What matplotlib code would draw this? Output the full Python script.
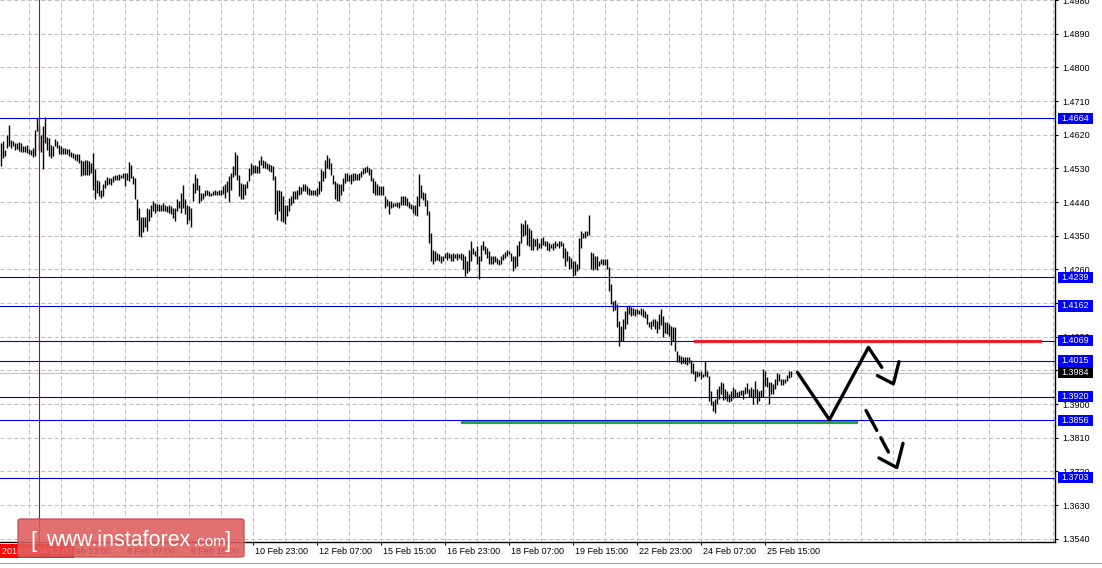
import matplotlib
matplotlib.use('Agg')
import matplotlib.pyplot as plt
from matplotlib import transforms
from matplotlib.patches import Rectangle, FancyBboxPatch
import numpy as np

# GBPUSD H1 bars, bar 0 = 2016.02.03 17:00
high = [
    1.4598, 1.4602, 1.4580, 1.4618, 1.4646, 1.4607, 1.4604, 1.4599, 1.4598, 1.4600,
    1.4598, 1.4589, 1.4589, 1.4593, 1.4583, 1.4580, 1.4584, 1.4633, 1.4664, 1.4646,
    1.4620, 1.4642, 1.4666, 1.4615, 1.4611, 1.4593, 1.4589, 1.4609, 1.4604, 1.4593,
    1.4589, 1.4584, 1.4584, 1.4583, 1.4583, 1.4575, 1.4571, 1.4568, 1.4567, 1.4569,
    1.4553, 1.4549, 1.4553, 1.4551, 1.4549, 1.4544, 1.4571, 1.4527, 1.4500, 1.4496,
    1.4473, 1.4487, 1.4500, 1.4506, 1.4503, 1.4504, 1.4509, 1.4512, 1.4513, 1.4515,
    1.4513, 1.4518, 1.4518, 1.4518, 1.4547, 1.4540, 1.4509, 1.4504, 1.4447, 1.4424,
    1.4400, 1.4400, 1.4400, 1.4424, 1.4420, 1.4433, 1.4442, 1.4438, 1.4435, 1.4435,
    1.4433, 1.4438, 1.4433, 1.4429, 1.4431, 1.4429, 1.4423, 1.4424, 1.4447, 1.4442,
    1.4464, 1.4485, 1.4449, 1.4433, 1.4429, 1.4424, 1.4491, 1.4515, 1.4504, 1.4485,
    1.4464, 1.4464, 1.4471, 1.4473, 1.4469, 1.4464, 1.4469, 1.4473, 1.4469, 1.4471,
    1.4473, 1.4482, 1.4487, 1.4497, 1.4509, 1.4518, 1.4535, 1.4575, 1.4566, 1.4513,
    1.4491, 1.4488, 1.4487, 1.4495, 1.4531, 1.4544, 1.4540, 1.4540, 1.4535, 1.4553,
    1.4562, 1.4553, 1.4549, 1.4544, 1.4542, 1.4540, 1.4535, 1.4509, 1.4471, 1.4471,
    1.4469, 1.4455, 1.4433, 1.4433, 1.4451, 1.4455, 1.4469, 1.4469, 1.4473, 1.4482,
    1.4479, 1.4488, 1.4487, 1.4482, 1.4478, 1.4473, 1.4473, 1.4471, 1.4478, 1.4495,
    1.4527, 1.4522, 1.4553, 1.4566, 1.4558, 1.4544, 1.4513, 1.4495, 1.4491, 1.4487,
    1.4487, 1.4504, 1.4518, 1.4518, 1.4513, 1.4515, 1.4518, 1.4518, 1.4515, 1.4518,
    1.4524, 1.4531, 1.4533, 1.4535, 1.4531, 1.4529, 1.4504, 1.4495, 1.4487, 1.4482,
    1.4482, 1.4482, 1.4455, 1.4447, 1.4442, 1.4444, 1.4438, 1.4438, 1.4440, 1.4440,
    1.4455, 1.4455, 1.4455, 1.4452, 1.4440, 1.4435, 1.4431, 1.4433, 1.4455, 1.4515,
    1.4486, 1.4468, 1.4464, 1.4446, 1.4415, 1.4357, 1.4313, 1.4309, 1.4304, 1.4300,
    1.4295, 1.4295, 1.4304, 1.4307, 1.4304, 1.4301, 1.4304, 1.4301, 1.4304, 1.4300,
    1.4304, 1.4300, 1.4295, 1.4282, 1.4313, 1.4337, 1.4317, 1.4309, 1.4322, 1.4295,
    1.4326, 1.4335, 1.4322, 1.4317, 1.4309, 1.4295, 1.4295, 1.4295, 1.4291, 1.4284,
    1.4295, 1.4301, 1.4307, 1.4313, 1.4309, 1.4304, 1.4295, 1.4295, 1.4326, 1.4337,
    1.4384, 1.4381, 1.4393, 1.4381, 1.4371, 1.4366, 1.4344, 1.4340, 1.4344, 1.4331,
    1.4344, 1.4346, 1.4337, 1.4335, 1.4331, 1.4328, 1.4331, 1.4335, 1.4331, 1.4335,
    1.4335, 1.4331, 1.4317, 1.4309, 1.4295, 1.4291, 1.4282, 1.4282, 1.4273, 1.4344,
    1.4362, 1.4357, 1.4362, 1.4362, 1.4406, 1.4307, 1.4304, 1.4295, 1.4295, 1.4282,
    1.4287, 1.4287, 1.4287, 1.4287, 1.4266, 1.4220, 1.4176, 1.4177, 1.4167, 1.4121,
    1.4109, 1.4127, 1.4149, 1.4162, 1.4165, 1.4160, 1.4156, 1.4153, 1.4153, 1.4151,
    1.4156, 1.4153, 1.4149, 1.4140, 1.4118, 1.4122, 1.4127, 1.4127, 1.4121, 1.4140,
    1.4153, 1.4136, 1.4118, 1.4118, 1.4115, 1.4109, 1.4106, 1.4105, 1.4042, 1.4032,
    1.4029, 1.4025, 1.4025, 1.4026, 1.4025, 1.4018, 1.4009, 1.3989, 1.3987, 1.3985,
    1.3989, 1.3980, 1.4014, 1.3987, 1.3976, 1.3936, 1.3909, 1.3914, 1.3940, 1.3949,
    1.3958, 1.3955, 1.3940, 1.3934, 1.3927, 1.3934, 1.3946, 1.3940, 1.3931, 1.3934,
    1.3938, 1.3938, 1.3945, 1.3955, 1.3940, 1.3945, 1.3940, 1.3961, 1.3940, 1.3934,
    1.3938, 1.3994, 1.3989, 1.3971, 1.3958, 1.3958, 1.3954, 1.3967, 1.3982, 1.3980,
    1.3967, 1.3967, 1.3967, 1.3978, 1.3987, 1.3987,
]
low = [
    1.4535, 1.4558, 1.4562, 1.4584, 1.4589, 1.4584, 1.4589, 1.4580, 1.4583, 1.4577,
    1.4575, 1.4575, 1.4574, 1.4571, 1.4567, 1.4565, 1.4560, 1.4562, 1.4629, 1.4580,
    1.4575, 1.4527, 1.4598, 1.4580, 1.4562, 1.4558, 1.4562, 1.4589, 1.4584, 1.4568,
    1.4568, 1.4567, 1.4568, 1.4567, 1.4564, 1.4559, 1.4558, 1.4551, 1.4549, 1.4544,
    1.4509, 1.4512, 1.4513, 1.4513, 1.4513, 1.4518, 1.4473, 1.4449, 1.4464, 1.4456,
    1.4451, 1.4456, 1.4478, 1.4485, 1.4488, 1.4485, 1.4494, 1.4500, 1.4500, 1.4500,
    1.4503, 1.4504, 1.4482, 1.4500, 1.4496, 1.4504, 1.4487, 1.4447, 1.4393, 1.4349,
    1.4346, 1.4361, 1.4373, 1.4362, 1.4389, 1.4400, 1.4416, 1.4411, 1.4416, 1.4417,
    1.4416, 1.4417, 1.4416, 1.4414, 1.4410, 1.4407, 1.4398, 1.4389, 1.4416, 1.4424,
    1.4411, 1.4424, 1.4407, 1.4380, 1.4393, 1.4373, 1.4442, 1.4464, 1.4473, 1.4438,
    1.4442, 1.4447, 1.4455, 1.4460, 1.4455, 1.4455, 1.4458, 1.4458, 1.4460, 1.4458,
    1.4460, 1.4462, 1.4451, 1.4467, 1.4440, 1.4473, 1.4506, 1.4513, 1.4500, 1.4455,
    1.4447, 1.4447, 1.4460, 1.4478, 1.4495, 1.4513, 1.4518, 1.4518, 1.4518, 1.4518,
    1.4540, 1.4531, 1.4531, 1.4527, 1.4524, 1.4520, 1.4500, 1.4408, 1.4393, 1.4416,
    1.4389, 1.4387, 1.4380, 1.4402, 1.4416, 1.4433, 1.4438, 1.4447, 1.4447, 1.4460,
    1.4462, 1.4469, 1.4469, 1.4462, 1.4460, 1.4460, 1.4458, 1.4458, 1.4455, 1.4462,
    1.4469, 1.4495, 1.4504, 1.4531, 1.4527, 1.4513, 1.4487, 1.4447, 1.4442, 1.4442,
    1.4460, 1.4469, 1.4491, 1.4495, 1.4495, 1.4487, 1.4497, 1.4500, 1.4500, 1.4500,
    1.4506, 1.4515, 1.4518, 1.4520, 1.4513, 1.4495, 1.4464, 1.4460, 1.4458, 1.4458,
    1.4460, 1.4458, 1.4424, 1.4429, 1.4408, 1.4424, 1.4426, 1.4429, 1.4426, 1.4424,
    1.4431, 1.4431, 1.4431, 1.4428, 1.4424, 1.4420, 1.4411, 1.4406, 1.4402, 1.4428,
    1.4451, 1.4446, 1.4428, 1.4406, 1.4331, 1.4282, 1.4273, 1.4282, 1.4286, 1.4282,
    1.4277, 1.4282, 1.4291, 1.4286, 1.4291, 1.4282, 1.4282, 1.4289, 1.4286, 1.4289,
    1.4286, 1.4260, 1.4242, 1.4251, 1.4255, 1.4282, 1.4300, 1.4295, 1.4273, 1.4233,
    1.4282, 1.4313, 1.4300, 1.4291, 1.4273, 1.4275, 1.4273, 1.4280, 1.4273, 1.4271,
    1.4275, 1.4284, 1.4289, 1.4295, 1.4300, 1.4282, 1.4255, 1.4264, 1.4269, 1.4295,
    1.4331, 1.4348, 1.4353, 1.4326, 1.4322, 1.4313, 1.4313, 1.4322, 1.4313, 1.4317,
    1.4317, 1.4326, 1.4322, 1.4313, 1.4309, 1.4317, 1.4313, 1.4317, 1.4322, 1.4317,
    1.4322, 1.4291, 1.4269, 1.4282, 1.4260, 1.4264, 1.4242, 1.4245, 1.4255, 1.4260,
    1.4317, 1.4344, 1.4344, 1.4348, 1.4353, 1.4260, 1.4257, 1.4260, 1.4257, 1.4269,
    1.4273, 1.4272, 1.4272, 1.4260, 1.4202, 1.4167, 1.4149, 1.4151, 1.4105, 1.4056,
    1.4069, 1.4069, 1.4100, 1.4113, 1.4140, 1.4136, 1.4138, 1.4136, 1.4140, 1.4140,
    1.4138, 1.4133, 1.4131, 1.4113, 1.4105, 1.4100, 1.4109, 1.4100, 1.4089, 1.4100,
    1.4112, 1.4080, 1.4091, 1.4087, 1.4082, 1.4058, 1.4069, 1.4042, 1.4011, 1.4011,
    1.4007, 1.4009, 1.4007, 1.4005, 1.4009, 1.3982, 1.3980, 1.3961, 1.3971, 1.3976,
    1.3967, 1.3971, 1.3976, 1.3971, 1.3909, 1.3896, 1.3881, 1.3875, 1.3899, 1.3914,
    1.3927, 1.3911, 1.3914, 1.3909, 1.3905, 1.3909, 1.3916, 1.3918, 1.3918, 1.3918,
    1.3923, 1.3914, 1.3927, 1.3929, 1.3918, 1.3918, 1.3900, 1.3918, 1.3899, 1.3909,
    1.3918, 1.3918, 1.3949, 1.3945, 1.3899, 1.3927, 1.3927, 1.3940, 1.3952, 1.3961,
    1.3952, 1.3952, 1.3955, 1.3962, 1.3970, 1.3971,
]

levels = [1.4664, 1.4239, 1.4162, 1.4069, 1.4015, 1.3920, 1.3856, 1.3703]
last_price = 1.3984
price_ticks = [1.3540, 1.3630, 1.3720, 1.3810, 1.3900, 1.3990, 1.4080, 1.4170,
               1.4260, 1.4350, 1.4440, 1.4530, 1.4620, 1.4710, 1.4800, 1.4890, 1.4980]
time_ticks = [30, 62, 94, 126, 158, 190, 222, 254, 286, 318, 350, 382]
time_labels = ['4 Feb 23:00', '8 Feb 07:00', '9 Feb 15:00', '10 Feb 23:00', '12 Feb 07:00',
               '15 Feb 15:00', '16 Feb 23:00', '18 Feb 07:00', '19 Feb 15:00',
               '22 Feb 23:00', '24 Feb 07:00', '25 Feb 15:00']
cross_bar = 19
cross_label = '2016.02.04 12:00'

# drawn forecast
resist = (347, 519.5, 1.4069)
support = (230.5, 427.5, 1.3852)
zig_x = [398.2, 414.2, 433.7, 440.4]
zig_y = [1.39847, 1.38579, 1.40513, 1.39980]
head1_x = [438.2, 446.2, 449.0]
head1_y = [1.39759, 1.39538, 1.40132]
dash_segs = [([432.5, 437.9], [1.38827, 1.38294]), ([439.9, 443.7], [1.38100, 1.37716])]
head2_x = [439.0, 447.9, 451.0]
head2_y = [1.37556, 1.37301, 1.37948]

W, H = 1102, 568
FS = 6.5
plt.rcParams['font.family'] = ['Liberation Sans', 'DejaVu Sans']
fig = plt.figure(figsize=(W / 100, H / 100), dpi=100)
ax = fig.add_axes([0, 26 / H, 1055 / W, 542 / H])
ax.set_xlim(-0.5, 527)
ax.set_ylim(1.35311, 1.49749)

grid_kw = dict(color='#c0c0c0', linewidth=0.75, linestyle=(0, (4, 2.5)), zorder=0)
for x in range(14, 527, 16):
    ax.axvline(x, **grid_kw)
for p in price_ticks:
    ax.axhline(p, **grid_kw)

idx = np.arange(len(high))
ax.vlines(idx, low, high, colors='black', linewidth=1.0, zorder=3)

for p in levels:
    ax.axhline(p, color='#0000e6', linewidth=0.8, zorder=2)
ax.axhline(last_price, color='#c0c0c0', linewidth=0.8, zorder=1)
ax.axvline(cross_bar, color='#cc0000', linewidth=0.8, zorder=4)

ax.plot([resist[0], resist[1]], [resist[2]] * 2, color='#e8222b', linewidth=2.3, zorder=4)
ax.plot([support[0], support[1]], [support[2]] * 2, color='#2aa045', linewidth=2.3, zorder=4)
line_kw = dict(color='black', linewidth=2.4, solid_capstyle='round', solid_joinstyle='round', zorder=5)
ax.plot(zig_x, zig_y, **line_kw)
ax.plot(head1_x, head1_y, **line_kw)
for sx, sy in dash_segs:
    ax.plot(sx, sy, **line_kw)
ax.plot(head2_x, head2_y, **line_kw)

for s in ['left', 'top']:
    ax.spines[s].set_visible(False)
for s in ['right', 'bottom']:
    ax.spines[s].set_linewidth(1)
    ax.spines[s].set_color('black')

ax.yaxis.tick_right()
ax.set_yticks(price_ticks)
ax.set_yticklabels([f'{p:.4f}' for p in price_ticks])
ax.tick_params(axis='y', length=2.2, width=0.8, pad=3, labelsize=FS, colors='black')
ax.set_xticks(time_ticks)
ax.set_xticklabels([])
ax.tick_params(axis='x', length=2.2, width=0.8)
for t, lab in zip(time_ticks, time_labels):
    ax.annotate(lab, xy=(t, 0), xycoords=('data', 'axes fraction'), xytext=(2, -9),
                textcoords='offset pixels', ha='left', va='center', fontsize=FS, zorder=6)

# crosshair date label
ax.annotate(cross_label, xy=(0, 0), xycoords='axes fraction', xytext=(2, -9),
            textcoords='offset pixels', ha='left', va='center', fontsize=FS, color='white',
            bbox=dict(boxstyle='square,pad=0.25', fc='#ff0000', ec='none'), zorder=7)

# price labels on the right scale
bt = transforms.blended_transform_factory(fig.transFigure, ax.transData)
for p in levels:
    ax.add_patch(Rectangle((1058 / W, p - 0.0015), 35 / W, 0.003, transform=bt,
                           fc='#0000ff', ec='none', clip_on=False, zorder=8))
    ax.text(1075.5 / W, p, f'{p:.4f}', transform=bt, ha='center', va='center',
            fontsize=FS, color='white', clip_on=False, zorder=9)
ax.add_patch(Rectangle((1058 / W, last_price - 0.0015), 35 / W, 0.003, transform=bt,
                       fc='black', ec='none', clip_on=False, zorder=8))
ax.text(1075.5 / W, last_price, f'{last_price:.4f}', transform=bt, ha='center', va='center',
        fontsize=FS, color='white', clip_on=False, zorder=9)

# logo
logo = FancyBboxPatch((18 / W, 11 / H), 226 / W, 38 / H, boxstyle='round,pad=0,rounding_size=0.003',
                      transform=fig.transFigure, fc='#e05c5c', ec='#c84848', alpha=0.88, zorder=20)
fig.add_artist(logo)
fig.text(30 / W, 21 / H, '[', color='white', fontsize=16, va='baseline', zorder=21)
fig.text(46 / W, 22 / H, 'www.instaforex', color='white', fontsize=15.5, va='baseline', zorder=21)
fig.text(194 / W, 22 / H, '.com', color='white', fontsize=11, va='baseline', zorder=21)
fig.text(225 / W, 21 / H, ']', color='white', fontsize=16, va='baseline', zorder=21)

fig.add_artist(plt.Line2D([0, 1], [5 / H, 5 / H], transform=fig.transFigure, color='#a0a0a0', linewidth=0.8))

fig.savefig('out.png', dpi=100)
